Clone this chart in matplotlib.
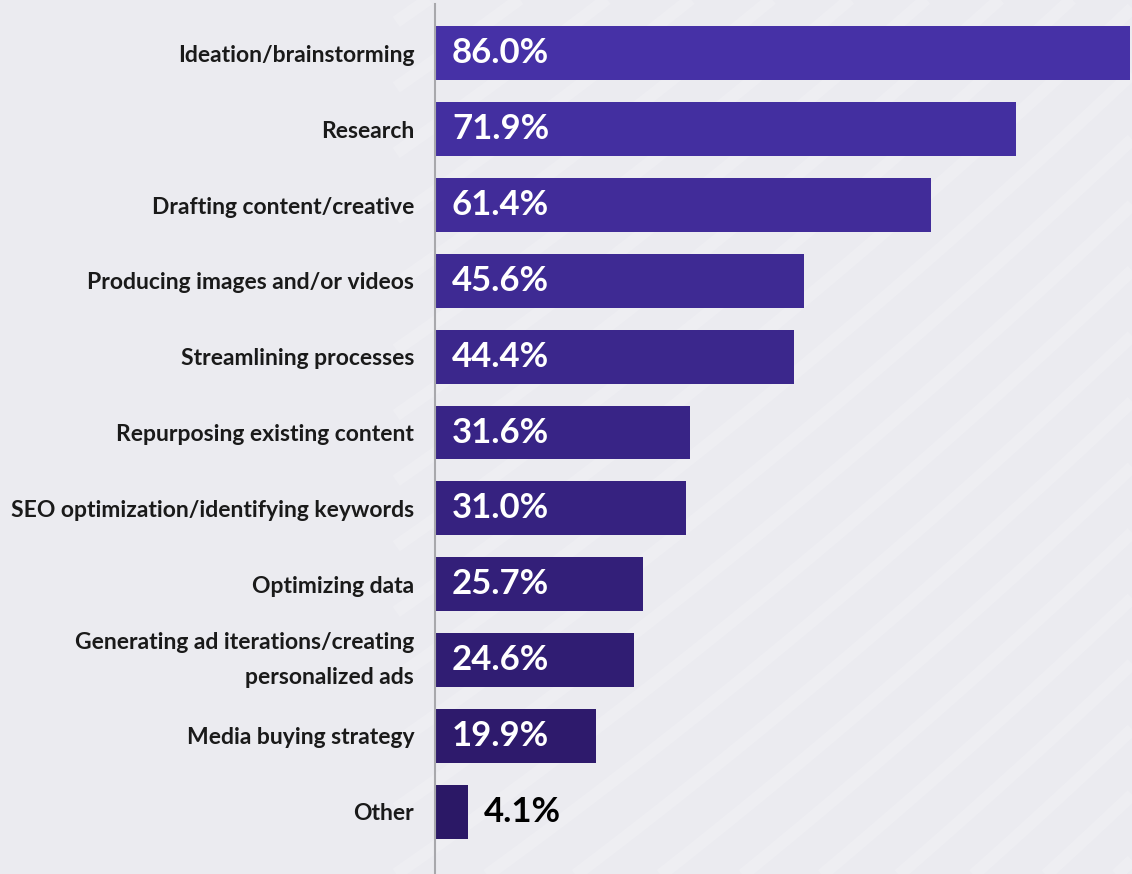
import numpy as np
import matplotlib.pyplot as plt
from matplotlib.colors import LinearSegmentedColormap

# ── Data ──
categories = [
    'Ideation/brainstorming',
    'Research',
    'Drafting content/creative',
    'Producing images and/or videos',
    'Streamlining processes',
    'Repurposing existing content',
    'SEO optimization/identifying keywords',
    'Optimizing data',
    'Generating ad iterations/creating\npersonalized ads',
    'Media buying strategy',
    'Other',
]
shares = [86.0, 71.9, 61.4, 45.6, 44.4, 31.6, 31.0, 25.7, 24.6, 19.9, 4.1]

BG = '#ebebf0'
bar_cmap = LinearSegmentedColormap.from_list('bars', ['#4631a6', '#2b1866'])

plt.rcParams['font.family'] = ['Lato', 'DejaVu Sans']

fig = plt.figure(figsize=(11.32, 8.74), dpi=100)
fig.patch.set_facecolor(BG)

# ── faint diagonal stripes behind everything ──
bg = fig.add_axes([0, 0, 1, 1], zorder=0)
bg.set_xlim(0, 1)
bg.set_ylim(0, 1)
bg.axis('off')
for k in np.arange(-1.2, 1.2, 0.075):
    xs = np.linspace(0.35, 1.0, 50)
    ys = k + 0.9 * (xs - 0.35) + 0.25 * (xs - 0.35) ** 2
    bg.plot(xs, ys, color='white', lw=9, alpha=0.16, solid_capstyle='butt')

# ── bars ──
ax = fig.add_axes([435 / 1132, 0, 695 / 1132, 870 / 874], zorder=1)
ax.patch.set_alpha(0)

ypos = np.arange(len(categories))
colors = [bar_cmap(i / (len(categories) - 1)) for i in ypos]
ax.barh(ypos, shares, height=0.71, color=colors, zorder=2)

ax.set_xlim(0, 86.0)
ax.set_ylim(10.82, -0.65)

for y, v in zip(ypos, shares):
    if v > 10:
        ax.text(2.1, y, f'{v:.1f}%', color='white', fontsize=25,
                fontweight='bold', va='center', ha='left', zorder=3)
    else:
        ax.text(v + 2.0, y, f'{v:.1f}%', color='black', fontsize=25,
                fontweight='bold', va='center', ha='left', zorder=3)

ax.set_yticks(ypos)
ax.set_yticklabels(categories, fontsize=16.5, fontweight='bold', color='#1a1a1a',
                   ha='right', multialignment='right', linespacing=1.8)
ax.tick_params(axis='y', length=0, pad=15)
ax.set_xticks([])
# two-line label: centre the whole block on the bar
for lbl in ax.get_yticklabels():
    if '\n' in lbl.get_text():
        lbl.set_verticalalignment('center')

for side in ['top', 'right', 'bottom']:
    ax.spines[side].set_visible(False)
ax.spines['left'].set_color('#a8a8ac')
ax.spines['left'].set_linewidth(1.5)

fig.savefig('out.png', dpi=100, facecolor=fig.get_facecolor())
